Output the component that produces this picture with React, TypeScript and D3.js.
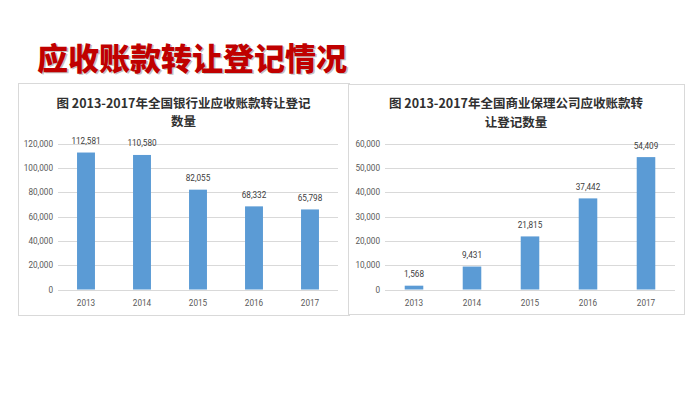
import React from "react";
import * as d3 from "d3";

const years = ["2013", "2014", "2015", "2016", "2017"];
const bankValues = [112581, 110580, 82055, 68332, 65798];
const factoringValues = [1568, 9431, 21815, 37442, 54409];
const bankTicks = [0, 20000, 40000, 60000, 80000, 100000, 120000];
const factoringTicks = [0, 10000, 20000, 30000, 40000, 50000, 60000];
const mainTitle = "应收账款转让登记情况";
const bankTitle = ["图 2013-2017年全国银行业应收账款转让登记", "数量"];
const factoringTitle = ["图 2013-2017年全国商业保理公司应收账款转", "让登记数量"];

const fmt = d3.format(",");
const CJK = "'Noto Sans CJK SC', 'Microsoft YaHei', sans-serif";
const NUM = "Roboto, 'Liberation Sans', sans-serif";

type PanelProps = {
  box: [number, number, number, number];
  plot: [number, number];
  yTop: number;
  yBottom: number;
  values: number[];
  ticks: number[];
  title: string[];
  titleY: [number, number];
  labelRight: number;
};

function Panel({ box, plot, yTop, yBottom, values, ticks, title, titleY, labelRight }: PanelProps) {
  const [bx, by, bw, bh] = box;
  const x = d3.scaleBand<string>().domain(years).range(plot).paddingInner(0.68).paddingOuter(0.34);
  const y = d3.scaleLinear().domain([0, ticks[ticks.length - 1]]).range([yBottom, yTop]);
  const cx = bx + bw / 2;
  return (
    <g>
      <rect x={bx + 0.5} y={by + 0.5} width={bw} height={bh} fill="#fff" stroke="#d9d9d9" strokeWidth={1} />
      {title.map((t, i) => (
        <text key={i} x={cx} y={titleY[i]} textAnchor="middle" dominantBaseline="central"
          fontFamily={CJK} fontWeight={700} fontSize={12.5} fill="#303030">{t}</text>
      ))}
      {ticks.map((t) => (
        <g key={t}>
          <line x1={plot[0]} x2={plot[1]} y1={Math.round(y(t)) + 0.5} y2={Math.round(y(t)) + 0.5}
            stroke="#d9d9d9" strokeWidth={1} />
          <text x={labelRight} y={y(t)} textAnchor="end" dominantBaseline="central"
            fontFamily={NUM} fontSize={8.2} fill="#595959">{fmt(t)}</text>
        </g>
      ))}
      {values.map((v, i) => (
        <g key={years[i]}>
          <rect x={x(years[i])} y={y(v)} width={x.bandwidth()} height={yBottom - y(v)} fill="#5b9bd5" />
          <text x={(x(years[i]) as number) + x.bandwidth() / 2} y={y(v) - 8.5} textAnchor="middle"
            fontFamily={NUM} fontSize={8.2} fill="#404040">{fmt(v)}</text>
          <text x={(x(years[i]) as number) + x.bandwidth() / 2} y={yBottom + 13} textAnchor="middle"
            dominantBaseline="central" fontFamily={NUM} fontSize={8.2} fill="#595959">{years[i]}</text>
        </g>
      ))}
    </g>
  );
}

export default function App() {
  return (
    <div style={{ position: "fixed", left: 0, top: 0, width: 700, height: 393, background: "#fff" }}>
      <svg width={700} height={393} viewBox="0 0 700 393">
        <rect width={700} height={393} fill="#fff" />
        <text x={38.5} y={57.5} dominantBaseline="central" fontFamily={CJK} fontWeight={900} fontSize={31}
          fill="#7a7a7a" opacity={0.45}>{mainTitle}</text>
        <text x={37} y={56} dominantBaseline="central" fontFamily={CJK} fontWeight={900} fontSize={31}
          fill="#c00000">{mainTitle}</text>
        <Panel box={[18, 83, 331, 232]} plot={[58, 338]} yTop={143.5} yBottom={289.5}
          values={bankValues} ticks={bankTicks} title={bankTitle} titleY={[102, 120]} labelRight={53} />
        <Panel box={[348, 84, 336, 230]} plot={[385, 675]} yTop={143.5} yBottom={289.5}
          values={factoringValues} ticks={factoringTicks} title={factoringTitle} titleY={[102, 121]} labelRight={380} />
      </svg>
    </div>
  );
}
